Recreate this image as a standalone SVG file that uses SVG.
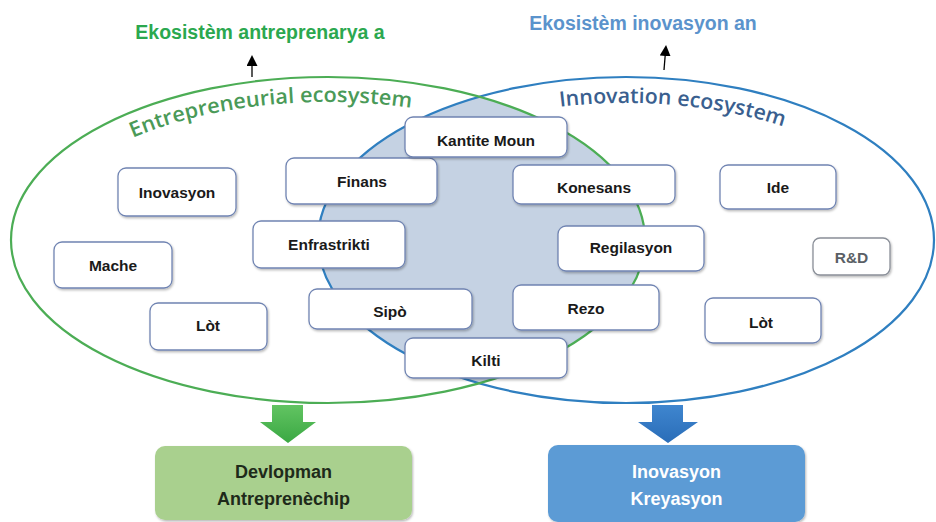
<svg xmlns="http://www.w3.org/2000/svg" xmlns:xlink="http://www.w3.org/1999/xlink" width="936" height="522" viewBox="0 0 936 522">
  <defs>
    <style>
      .node rect { fill: #ffffff; stroke: #7084b2; stroke-width: 1.3; filter: url(#sh); }
      .node text { font-family: "Liberation Sans", Arial, sans-serif; font-weight: bold; font-size: 15.5px; fill: #1a1a1a; text-anchor: middle; }
      .gray rect { stroke: #8a8f98; }
      .gray text { fill: #5a5f66; }
      .title { font-family: "Liberation Sans", Arial, sans-serif; font-weight: bold; font-size: 19.5px; text-anchor: middle; }
      .arc { font-family: "Open Sans", "Liberation Sans", sans-serif; font-size: 21px; font-weight: 600; }
      .out text { font-family: "Liberation Sans", Arial, sans-serif; font-weight: bold; font-size: 18px; text-anchor: middle; }
    </style>
    <filter id="sh" x="-10%" y="-10%" width="125%" height="140%">
      <feDropShadow dx="1" dy="1.5" stdDeviation="1" flood-color="#000" flood-opacity="0.28"/>
    </filter>
    <clipPath id="blueClip">
      <ellipse cx="626" cy="240" rx="308" ry="163"/>
    </clipPath>
    <linearGradient id="gArrow" x1="0" y1="0" x2="0" y2="1">
      <stop offset="0" stop-color="#62c462"/>
      <stop offset="1" stop-color="#3aa843"/>
    </linearGradient>
    <linearGradient id="bArrow" x1="0" y1="0" x2="0" y2="1">
      <stop offset="0" stop-color="#3f86cf"/>
      <stop offset="1" stop-color="#2a6db8"/>
    </linearGradient>
    <marker id="up" viewBox="0 0 10 10" refX="5" refY="5" markerWidth="11" markerHeight="11" markerUnits="userSpaceOnUse" orient="auto">
      <path d="M0,0 L10,5 L0,10 z" fill="#000"/>
    </marker>
    <path id="pEnt" d="M 133,137.8 A 290,138 0 0 1 560,157.2"/>
    <path id="pInn" d="M 560,106.8 A 280,137 0 0 1 870,172.7"/>
  </defs>

  <rect width="936" height="522" fill="#ffffff"/>

  <!-- titles -->
  <text class="title" x="260" y="39" fill="#2ba84f">Ekosistèm antreprenarya a</text>
  <text class="title" x="643" y="30" fill="#5b93cc">Ekosistèm inovasyon an</text>

  <!-- ecosystems -->
  <g id="ecosystems">
    <ellipse cx="328" cy="240" rx="317" ry="163" fill="#c5d2e3" clip-path="url(#blueClip)"/>
    <ellipse cx="626" cy="240" rx="308" ry="163" fill="none" stroke="#2f7fc0" stroke-width="2.2"/>
    <ellipse cx="328" cy="240" rx="317" ry="163" fill="none" stroke="#4cad55" stroke-width="2.2"/>
    <text class="arc" fill="#4a9a58"><textPath xlink:href="#pEnt" textLength="283" lengthAdjust="spacingAndGlyphs">Entrepreneurial ecosystem</textPath></text>
    <text class="arc" fill="#3a5f8f"><textPath xlink:href="#pInn" textLength="226" lengthAdjust="spacingAndGlyphs">Innovation ecosystem</textPath></text>
  </g>

  <!-- connectors -->
  <g id="connectors">
    <line x1="252" y1="77" x2="252" y2="60.5" stroke="#000" stroke-width="1.3" marker-end="url(#up)"/>
    <line x1="664" y1="70" x2="665.6" y2="50.5" stroke="#000" stroke-width="1.3" marker-end="url(#up)"/>
    <polygon points="272,405 303,405 303,422 316,422 288,443 260,422 272,422" fill="url(#gArrow)"/>
    <polygon points="652,405 683,405 683,422 698,422 668,443 638,422 652,422" fill="url(#bArrow)"/>
  </g>

  <!-- nodes -->
  <g id="n-inovasyon" class="node"><rect x="118" y="168" width="118" height="48" rx="8"/><text x="177" y="197.5">Inovasyon</text></g>
  <g id="n-mache" class="node"><rect x="54" y="242" width="118" height="46" rx="8"/><text x="113" y="270.5">Mache</text></g>
  <g id="n-lot-left" class="node"><rect x="150" y="303" width="117" height="47" rx="8"/><text x="208" y="330.5">Lòt</text></g>
  <g id="n-finans" class="node"><rect x="286" y="158" width="151" height="46" rx="8"/><text x="362" y="186.5">Finans</text></g>
  <g id="n-enfrastrikti" class="node"><rect x="253" y="221" width="152" height="47" rx="8"/><text x="329" y="249.5">Enfrastrikti</text></g>
  <g id="n-sipo" class="node"><rect x="309" y="289" width="163" height="40" rx="8"/><text x="390" y="317">Sipò</text></g>
  <g id="n-kantite-moun" class="node"><rect x="405" y="117" width="162" height="40" rx="8"/><text x="486" y="145.5">Kantite Moun</text></g>
  <g id="n-konesans" class="node"><rect x="513" y="165" width="162" height="39" rx="8"/><text x="594" y="192.5">Konesans</text></g>
  <g id="n-regilasyon" class="node"><rect x="558" y="226" width="146" height="45" rx="8"/><text x="631" y="252.5">Regilasyon</text></g>
  <g id="n-rezo" class="node"><rect x="513" y="285" width="146" height="45" rx="8"/><text x="586" y="313.5">Rezo</text></g>
  <g id="n-kilti" class="node"><rect x="405" y="338" width="162" height="40" rx="8"/><text x="486" y="365.5">Kilti</text></g>
  <g id="n-ide" class="node"><rect x="720" y="165" width="116" height="44" rx="8"/><text x="778" y="192.5">Ide</text></g>
  <g id="n-rd" class="node gray"><rect x="813" y="238" width="77" height="37" rx="7"/><text x="851.5" y="262.5">R&amp;D</text></g>
  <g id="n-lot-right" class="node"><rect x="705" y="298" width="116" height="45" rx="8"/><text x="761" y="327.5">Lòt</text></g>

  <!-- outcomes -->
  <g id="n-devlopman" class="out">
    <rect x="155" y="446" width="257" height="74" rx="10" fill="#a9d08e" filter="url(#sh)"/>
    <text x="283.5" y="478" fill="#1e2a1a">Devlopman</text>
    <text x="283.5" y="505" fill="#1e2a1a">Antreprenèchip</text>
  </g>
  <g id="n-inovasyon-kreyasyon" class="out">
    <rect x="548" y="445" width="257" height="77" rx="10" fill="#5b9bd5" filter="url(#sh)"/>
    <text x="676.5" y="478" fill="#ffffff">Inovasyon</text>
    <text x="676.5" y="505" fill="#ffffff">Kreyasyon</text>
  </g>
</svg>
